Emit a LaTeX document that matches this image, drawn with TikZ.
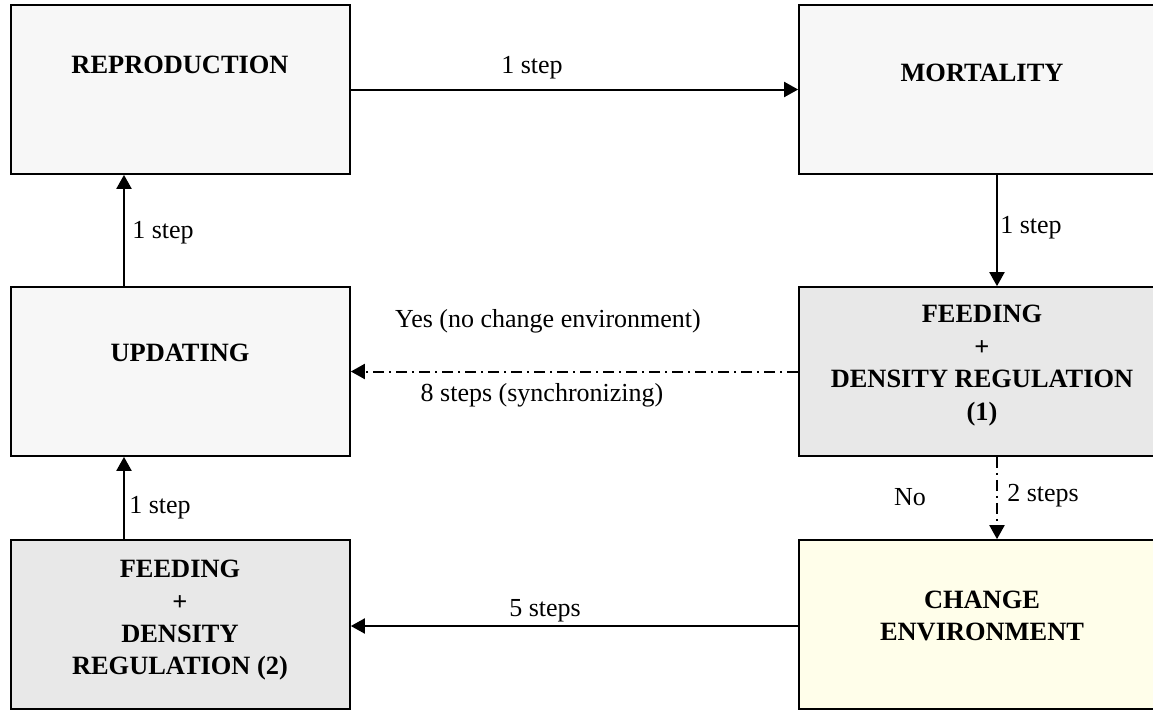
\documentclass[tikz,border=0pt]{standalone}
\usepackage{fontspec}
\setmainfont{Liberation Serif}
\usetikzlibrary{arrows.meta}
\definecolor{boxlight}{HTML}{F7F7F7}
\definecolor{boxgray}{HTML}{E8E8E8}
\definecolor{boxyellow}{HTML}{FFFEEA}
\begin{document}
\begin{tikzpicture}[x=0.5pt,y=-0.5pt,
  box/.style={draw=black,line width=0.85pt,minimum width=169.5pt,minimum height=84.5pt,inner sep=0pt},
  rbox/.style={box,minimum width=183pt},
  title/.style={font=\fontsize{13.2pt}{16pt}\selectfont\bfseries,align=center,inner sep=0pt},
  lbl/.style={font=\fontsize{13pt}{16pt}\selectfont,inner sep=0pt},
  arr/.style={line width=1pt,-{Triangle[length=7pt,width=7.5pt]}},
  dda/.style={arr,dash pattern=on 5.5pt off 2.5pt on 1pt off 2.5pt}]
\useasboundingbox (0,0) rectangle (1153,709);
\clip (0,0) rectangle (1153,709);
% boxes
\node[box,fill=boxlight] (rep) at (180.5,89.5) {};
\node[rbox,fill=boxlight] (mort) at (982,89.5) {};
\node[box,fill=boxlight] (upd) at (180.5,371.5) {};
\node[rbox,fill=boxgray] (feed1) at (982,371.5) {};
\node[box,fill=boxgray] (feed2) at (180.5,624.5) {};
\node[rbox,fill=boxyellow] (chg) at (982,624.5) {};
% box texts
\node[title] (reptxt) at (180,65) {REPRODUCTION};
\node[title] (morttxt) at (982,73) {MORTALITY};
\node[title] (updtxt) at (180,353) {UPDATING};
\node[title] (feed1txt) at (982,366) {FEEDING\\[0.5pt]+\\DENSITY REGULATION\\[0.5pt](1)};
\node[title] (feed2txt) at (180,620) {FEEDING\\[0.5pt]+\\DENSITY\\REGULATION (2)};
\node[title] (chgtxt) at (982,616) {CHANGE\\ENVIRONMENT};
% connectors
\draw[arr] (rep.east) -- (mort.west);
\draw[arr] ([xshift=-28.25pt]upd.north) -- ([xshift=-28.25pt]rep.south);
\draw[arr] ([xshift=7.5pt]mort.south) -- ([xshift=7.5pt]feed1.north);
\draw[arr] ([xshift=-28.25pt]feed2.north) -- ([xshift=-28.25pt]upd.south);
\draw[dda] (feed1.west) -- (upd.east);
\draw[dda] ([xshift=7.5pt]feed1.south) -- ([xshift=7.5pt]chg.north);
\draw[arr] ([yshift=-0.75pt]chg.west) -- ([yshift=-0.75pt]feed2.east);
% labels
\node[lbl] (l1) at (532,68) {1 step};
\node[lbl] (l2) at (163,233) {1 step};
\node[lbl] (l3) at (1031,228) {1 step};
\node[lbl] (l4) at (160,508) {1 step};
\node[lbl] (l5) at (548,321) {Yes (no change environment)};
\node[lbl] (l6) at (542,395) {8 steps (synchronizing)};
\node[lbl] (l7) at (910,497) {No};
\node[lbl] (l8) at (1043,496) {2 steps};
\node[lbl] (l9) at (545,611) {5 steps};
\end{tikzpicture}
\end{document}
